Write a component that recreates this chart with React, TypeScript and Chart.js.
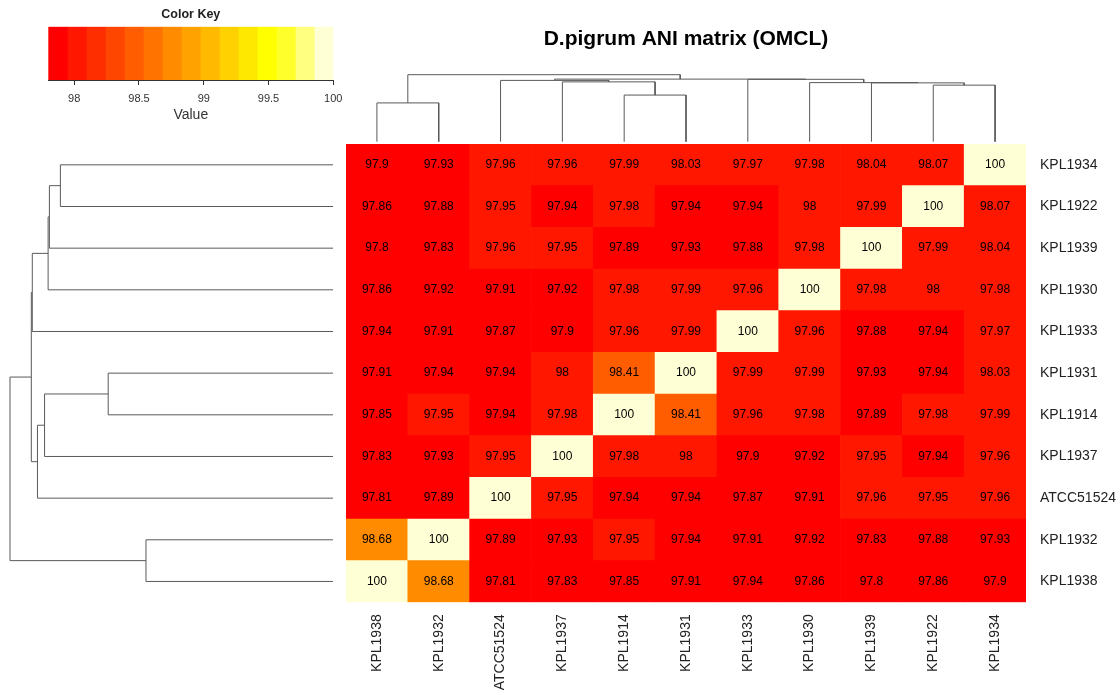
import React, { useEffect, useRef } from "react";
import { Chart, registerables } from "chart.js";

Chart.register(...registerables);

const FONT = '"Liberation Sans", Arial, Helvetica, sans-serif';
Chart.defaults.font.family = FONT;

const chartTitle = "D.pigrum ANI matrix (OMCL)";

// rows listed top to bottom
const rowLabels = [
  "KPL1934", "KPL1922", "KPL1939", "KPL1930", "KPL1933", "KPL1931",
  "KPL1914", "KPL1937", "ATCC51524", "KPL1932", "KPL1938",
];
// columns listed left to right (also the dendrogram leaf order)
const colLabels = [
  "KPL1938", "KPL1932", "ATCC51524", "KPL1937", "KPL1914", "KPL1931",
  "KPL1933", "KPL1930", "KPL1939", "KPL1922", "KPL1934",
];

const rowKPL1934 = [97.9, 97.93, 97.96, 97.96, 97.99, 98.03, 97.97, 97.98, 98.04, 98.07, 100];
const rowKPL1922 = [97.86, 97.88, 97.95, 97.94, 97.98, 97.94, 97.94, 98, 97.99, 100, 98.07];
const rowKPL1939 = [97.8, 97.83, 97.96, 97.95, 97.89, 97.93, 97.88, 97.98, 100, 97.99, 98.04];
const rowKPL1930 = [97.86, 97.92, 97.91, 97.92, 97.98, 97.99, 97.96, 100, 97.98, 98, 97.98];
const rowKPL1933 = [97.94, 97.91, 97.87, 97.9, 97.96, 97.99, 100, 97.96, 97.88, 97.94, 97.97];
const rowKPL1931 = [97.91, 97.94, 97.94, 98, 98.41, 100, 97.99, 97.99, 97.93, 97.94, 98.03];
const rowKPL1914 = [97.85, 97.95, 97.94, 97.98, 100, 98.41, 97.96, 97.98, 97.89, 97.98, 97.99];
const rowKPL1937 = [97.83, 97.93, 97.95, 100, 97.98, 98, 97.9, 97.92, 97.95, 97.94, 97.96];
const rowATCC51524 = [97.81, 97.89, 100, 97.95, 97.94, 97.94, 97.87, 97.91, 97.96, 97.95, 97.96];
const rowKPL1932 = [98.68, 100, 97.89, 97.93, 97.95, 97.94, 97.91, 97.92, 97.83, 97.88, 97.93];
const rowKPL1938 = [100, 98.68, 97.81, 97.83, 97.85, 97.91, 97.94, 97.86, 97.8, 97.86, 97.9];

const aniMatrix = [
  rowKPL1934, rowKPL1922, rowKPL1939, rowKPL1930, rowKPL1933, rowKPL1931,
  rowKPL1914, rowKPL1937, rowATCC51524, rowKPL1932, rowKPL1938,
];

// colour key (heat.colors(15) over 16 breaks)
const keyBreaks = [
  97.8, 97.947, 98.093, 98.24, 98.387, 98.533, 98.68, 98.827,
  98.973, 99.12, 99.267, 99.413, 99.56, 99.707, 99.853, 100,
];
const keyColors = [
  "#FF0000", "#FF1700", "#FF2E00", "#FF4600", "#FF5D00", "#FF7400", "#FF8B00",
  "#FFA200", "#FFB900", "#FFD100", "#FFE800", "#FFFF00", "#FFFF2B", "#FFFF80", "#FFFFD5",
];
const keyTicks = [98, 98.5, 99, 99.5, 100];

// dendrogram (hclust-style merges: negative = leaf number in colLabels order, positive = merge number)
const mergeLeft = [-5, -1, -10, -9, -8, -4, -3, -7, 7, 2];
const mergeRight = [-6, -2, -11, 3, 4, 1, 6, 5, 8, 9];
const mergeHeight = [0.696, 0.579, 0.844, 0.878, 0.882, 0.893, 0.915, 0.931, 0.934, 1.0];

function colorFor(v: number): string {
  for (let i = keyColors.length - 1; i >= 0; i--) {
    if (v >= keyBreaks[i] - 1e-9) return keyColors[i];
  }
  return keyColors[0];
}

function dendroSegments() {
  const pos: number[] = [];
  const hgt: number[] = [];
  const cp = (c: number) => (c < 0 ? -c - 1 + 0.5 : pos[c - 1]);
  const ch = (c: number) => (c < 0 ? 0 : hgt[c - 1]);
  const segs: { p: number; h: number }[][] = [];
  for (let j = 0; j < mergeHeight.length; j++) {
    const pl = cp(mergeLeft[j]);
    const pr = cp(mergeRight[j]);
    const hl = ch(mergeLeft[j]);
    const hr = ch(mergeRight[j]);
    const h = mergeHeight[j];
    pos.push((pl + pr) / 2);
    hgt.push(h);
    segs.push([
      { p: pl, h: hl },
      { p: pl, h },
      { p: pr, h },
      { p: pr, h: hr },
    ]);
  }
  return segs;
}

const W = 1120;
const H = 695;
// heatmap plot area
const AREA = { left: 346, right: 1026, top: 144, bottom: 602.3 };
const ROW_DENDRO = { left: 10, right: 333 };
const COL_DENDRO = { top: 74.7, bottom: 141.7 };
const DENDRO_COLOR = "#5a5a5a";

const heatTextPlugin = {
  id: "heatText",
  afterDatasetsDraw(chart: any) {
    const ctx = chart.ctx;
    const { left, right, bottom } = chart.chartArea;
    ctx.save();
    ctx.font = `12px ${FONT}`;
    ctx.fillStyle = "#000";
    ctx.textAlign = "center";
    ctx.textBaseline = "middle";
    chart.data.datasets.forEach((ds: any, di: number) => {
      const meta = chart.getDatasetMeta(di);
      meta.data.forEach((bar: any, ci: number) => {
        const { x, y, base } = bar.getProps(["x", "y", "base"], true);
        ctx.fillText(String(ds.values[ci]), x, (y + base) / 2);
      });
    });
    const ys = chart.scales.y;
    const xs = chart.scales.x;
    ctx.font = `14px ${FONT}`;
    ctx.fillStyle = "#222";
    ctx.textAlign = "left";
    rowLabels.forEach((lab, r) => {
      ctx.fillText(lab, right + 14, ys.getPixelForValue(rowLabels.length - r - 0.5));
    });
    colLabels.forEach((lab, c) => {
      ctx.save();
      ctx.translate(xs.getPixelForValue(c), bottom + 12);
      ctx.rotate(-Math.PI / 2);
      ctx.textAlign = "right";
      ctx.textBaseline = "middle";
      ctx.fillText(lab, 0, 0);
      ctx.restore();
    });
    ctx.font = `bold 21px ${FONT}`;
    ctx.fillStyle = "#000";
    ctx.textAlign = "center";
    ctx.fillText(chartTitle, (left + right) / 2, 39);
    ctx.restore();
  },
};

const keyTitlePlugin = {
  id: "keyTitle",
  afterDraw(chart: any) {
    const ctx = chart.ctx;
    const { left, right } = chart.chartArea;
    ctx.save();
    ctx.font = `bold 12.5px ${FONT}`;
    ctx.fillStyle = "#222";
    ctx.textAlign = "center";
    ctx.textBaseline = "middle";
    ctx.fillText("Color Key", (left + right) / 2, 15);
    ctx.restore();
  },
};

export default function App() {
  const heatRef = useRef<HTMLCanvasElement>(null);
  const rowRef = useRef<HTMLCanvasElement>(null);
  const colRef = useRef<HTMLCanvasElement>(null);
  const keyRef = useRef<HTMLCanvasElement>(null);

  useEffect(() => {
    const charts: Chart[] = [];
    const nRows = rowLabels.length;

    // Heatmap: stacked unit bars, one dataset per row (bottom row first)
    const heatDatasets = [];
    for (let k = 0; k < nRows; k++) {
      const r = nRows - 1 - k;
      heatDatasets.push({
        label: rowLabels[r],
        data: colLabels.map(() => 1),
        values: aniMatrix[r],
        backgroundColor: aniMatrix[r].map(colorFor),
        borderWidth: 0,
        barPercentage: 1,
        categoryPercentage: 1,
      });
    }
    charts.push(
      new Chart(heatRef.current!, {
        type: "bar",
        data: { labels: colLabels, datasets: heatDatasets as any },
        options: {
          responsive: false,
          animation: false,
          events: [],
          layout: {
            padding: {
              left: AREA.left,
              right: W - AREA.right,
              top: AREA.top,
              bottom: H - AREA.bottom,
            },
          },
          plugins: { legend: { display: false }, tooltip: { enabled: false } },
          scales: {
            x: { type: "category", stacked: true, display: false },
            y: { type: "linear", stacked: true, min: 0, max: nRows, display: false },
          },
        },
        plugins: [heatTextPlugin],
      })
    );

    const segs = dendroSegments();
    const lineDs = (pts: { x: number; y: number }[]) => ({
      data: pts,
      showLine: true,
      pointRadius: 0,
      borderColor: DENDRO_COLOR,
      borderWidth: 1,
      tension: 0,
      clip: false,
    });

    // Row dendrogram (left)
    charts.push(
      new Chart(rowRef.current!, {
        type: "scatter",
        data: {
          datasets: segs.map((s) => lineDs(s.map((q) => ({ x: q.h, y: q.p })))) as any,
        },
        options: {
          responsive: false,
          animation: false,
          events: [],
          layout: {
            padding: {
              left: ROW_DENDRO.left,
              right: W - ROW_DENDRO.right,
              top: AREA.top,
              bottom: H - AREA.bottom,
            },
          },
          plugins: { legend: { display: false }, tooltip: { enabled: false } },
          scales: {
            x: { type: "linear", min: 0, max: 1, reverse: true, display: false },
            y: { type: "linear", min: 0, max: nRows, display: false },
          },
        },
      })
    );

    // Column dendrogram (top)
    charts.push(
      new Chart(colRef.current!, {
        type: "scatter",
        data: {
          datasets: segs.map((s) => lineDs(s.map((q) => ({ x: q.p, y: q.h })))) as any,
        },
        options: {
          responsive: false,
          animation: false,
          events: [],
          layout: {
            padding: {
              left: AREA.left,
              right: W - AREA.right,
              top: COL_DENDRO.top,
              bottom: H - COL_DENDRO.bottom,
            },
          },
          plugins: { legend: { display: false }, tooltip: { enabled: false } },
          scales: {
            x: { type: "linear", min: 0, max: colLabels.length, display: false },
            y: { type: "linear", min: 0, max: 1, display: false },
          },
        },
      })
    );

    // Colour key
    const keyDatasets = keyColors.map((c, i) => ({
      data: [[keyBreaks[i], keyBreaks[i + 1]]],
      backgroundColor: c,
      borderWidth: 0,
      grouped: false,
      barPercentage: 1,
      categoryPercentage: 1,
    }));
    charts.push(
      new Chart(keyRef.current!, {
        type: "bar",
        data: { labels: ["key"], datasets: keyDatasets as any },
        options: {
          indexAxis: "y",
          responsive: false,
          animation: false,
          events: [],
          layout: { padding: { left: 48.3, right: 26.7, top: 26.7, bottom: 0 } },
          plugins: { legend: { display: false }, tooltip: { enabled: false } },
          scales: {
            x: {
              type: "linear",
              min: keyBreaks[0],
              max: keyBreaks[keyBreaks.length - 1],
              afterBuildTicks: (ax: any) => {
                ax.ticks = keyTicks.map((v) => ({ value: v }));
              },
              ticks: {
                font: { size: 11 },
                color: "#333",
                padding: 7,
                maxRotation: 0,
                autoSkip: false,
                callback: (v: any) => String(v),
              },
              grid: { drawOnChartArea: false, drawTicks: true, tickLength: 5, color: "#333" },
              border: { display: true, color: "#333" },
              title: {
                display: true,
                text: "Value",
                font: { size: 14 },
                color: "#333",
                padding: { top: -5, bottom: 0 },
              },
            },
            y: { type: "category", display: false },
          },
        },
        plugins: [keyTitlePlugin],
      })
    );

    return () => charts.forEach((c) => c.destroy());
  }, []);

  const abs: React.CSSProperties = { position: "absolute", left: 0, top: 0 };
  return (
    <div style={{ position: "fixed", left: 0, top: 0, width: W, height: H, background: "#fff" }}>
      <canvas ref={heatRef} width={W} height={H} style={abs} />
      <canvas ref={rowRef} width={W} height={H} style={abs} />
      <canvas ref={colRef} width={W} height={H} style={abs} />
      <canvas ref={keyRef} width={360} height={124} style={abs} />
    </div>
  );
}
